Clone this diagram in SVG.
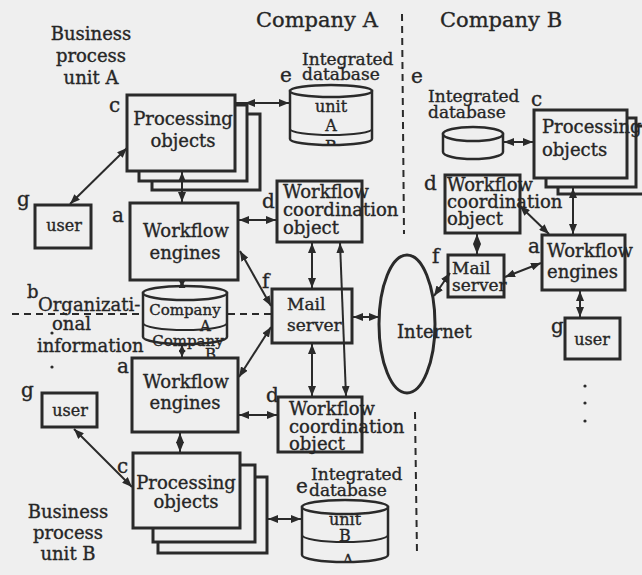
<svg xmlns="http://www.w3.org/2000/svg" width="642" height="575" viewBox="0 0 642 575">
<defs>
<style>
text{font-family:'DejaVu Serif',serif;fill:#262626;stroke:#262626;stroke-width:0.35;}
.t18{font-size:18px;}
.t17{font-size:17px;}
.t16{font-size:16px;}
.t15{font-size:15px;}
.t20{font-size:20px;}
.t21{font-size:21px;}
.mid{text-anchor:middle;}
.box{fill:#efefef;stroke:#2a2a2a;stroke-width:3;}
.cyl{fill:#efefef;stroke:#2a2a2a;stroke-width:2.5;}
.ln{fill:none;stroke:#2a2a2a;stroke-width:2;}
.con{fill:none;stroke:#2a2a2a;stroke-width:2;marker-start:url(#ah);marker-end:url(#ah);}
.cons{fill:none;stroke:#2a2a2a;stroke-width:2;marker-start:url(#ahs);marker-end:url(#ahs);}
.dash{fill:none;stroke:#2a2a2a;stroke-width:2;stroke-dasharray:7 5;}
</style>
<marker id="ah" markerUnits="userSpaceOnUse" markerWidth="10" markerHeight="8" refX="10" refY="4" orient="auto-start-reverse">
<path d="M0,0 L10,4 L0,8 Z" fill="#2a2a2a"/>
</marker>
<marker id="ahs" markerUnits="userSpaceOnUse" markerWidth="7" markerHeight="7" refX="7" refY="3.5" orient="auto-start-reverse">
<path d="M0,0 L7,3.5 L0,7 Z" fill="#2a2a2a"/>
</marker>
<clipPath id="clipA"><path d="M290,80 V139 A41,6 0 0 0 372,139 V80 Z"/></clipPath>
<clipPath id="clipB"><path d="M302,495 V555 A43,7 0 0 0 388,555 V495 Z"/></clipPath>
</defs>
<rect width="642" height="575" fill="#efefef"/>

<g id="titles">
<text class="t21" x="256" y="27">Company A</text>
<text class="t21" x="440" y="27">Company B</text>
<text class="t18 mid" x="91" y="40">Business</text>
<text class="t18 mid" x="91" y="62">process</text>
<text class="t18 mid" x="91" y="84">unit A</text>
<text class="t18 mid" x="68" y="518">Business</text>
<text class="t18 mid" x="68" y="539">process</text>
<text class="t18 mid" x="68" y="560">unit B</text>
</g>

<g id="separators">
<path class="dash" d="M402,14 L404,234"/>
<path class="dash" d="M415,412 L417,554"/>
<path class="dash" d="M12,314 H352"/>
</g>

<g id="org-info">
<text class="t18" x="27" y="298">b</text>
<text class="t18" x="38" y="311">Organizati-</text>
<text class="t18" x="52" y="330">onal</text>
<text class="t18" x="37" y="352">information</text>
<circle cx="52" cy="333" r="1.6" fill="#2a2a2a"/>
<circle cx="52" cy="367" r="1.6" fill="#2a2a2a"/>
</g>

<g id="proc-a1">
<rect class="box" x="152" y="114" width="108" height="76"/>
<rect class="box" x="139" y="105" width="108" height="76"/>
<rect class="box" x="127" y="95" width="108" height="76"/>
<text class="t18 mid" x="183" y="125">Processing</text>
<text class="t18 mid" x="183" y="147">objects</text>
<text class="t20" x="109" y="112">c</text>
</g>

<g id="db-a1">
<path class="cyl" d="M290,91 V139 A41,6 0 0 0 372,139 V91 Z"/>
<ellipse class="cyl" cx="331" cy="91" rx="41" ry="6"/>
<path class="ln" d="M290,129 A41,6 0 0 0 372,129"/>
<text class="t16 mid" x="331" y="112">unit</text>
<text class="t16 mid" x="331" y="131">A</text>
<text class="t16 mid" x="331" y="152" clip-path="url(#clipA)">B</text>
<text class="t17" x="302" y="65">Integrated</text>
<text class="t17" x="302" y="80">database</text>
<text class="t20" x="280" y="82">e</text>
</g>

<g id="user-a1">
<rect class="box" x="35" y="205" width="56" height="43"/>
<text class="t16 mid" x="64" y="231">user</text>
<text class="t20" x="17" y="206">g</text>
</g>

<g id="wf-a1">
<rect class="box" x="130" y="203" width="108" height="77"/>
<text class="t18 mid" x="186" y="237">Workflow</text>
<text class="t18 mid" x="185" y="259">engines</text>
<text class="t20" x="112" y="222">a</text>
</g>

<g id="coord-a1">
<rect class="box" x="277" y="181" width="85" height="61"/>
<text class="t18" x="283" y="198">Workflow</text>
<text class="t18" x="283" y="216">coordination</text>
<text class="t18" x="283" y="234">object</text>
<text class="t20" x="262" y="208">d</text>
</g>

<g id="mail-a">
<rect class="box" x="272" y="289" width="80" height="54"/>
<text class="t17" x="287" y="310">Mail</text>
<text class="t17" x="287" y="331">server</text>
<text class="t20" x="262" y="288">f</text>
</g>

<g id="db-company">
<path class="cyl" d="M143,293 V337 A42,7 0 0 0 227,337 V293 Z"/>
<ellipse class="cyl" cx="185" cy="293" rx="42" ry="7"/>
<path class="ln" d="M143,323 A42,7 0 0 0 227,323"/>
<text class="t15 mid" x="185" y="315">Company</text>
<text class="t15" x="200" y="331">A</text>
<text class="t15 mid" x="188" y="346">Company</text>
<text class="t15" x="205" y="359">B</text>
</g>

<g id="wf-a2">
<rect class="box" x="132" y="358" width="106" height="74"/>
<text class="t18 mid" x="186" y="388">Workflow</text>
<text class="t18 mid" x="185" y="409">engines</text>
<text class="t20" x="117" y="373">a</text>
</g>

<g id="coord-a2">
<rect class="box" x="278" y="397" width="84" height="55"/>
<text class="t18" x="289" y="415">Workflow</text>
<text class="t18" x="289" y="433">coordination</text>
<text class="t18" x="289" y="450">object</text>
<text class="t20" x="266" y="402">d</text>
</g>

<g id="user-a2">
<rect class="box" x="42" y="393" width="55" height="34"/>
<text class="t16 mid" x="70" y="416">user</text>
<text class="t20" x="21" y="397">g</text>
</g>

<g id="proc-a2">
<rect class="box" x="158" y="477" width="109" height="76"/>
<rect class="box" x="153" y="465" width="102" height="77"/>
<rect class="box" x="133" y="453" width="107" height="75"/>
<text class="t18 mid" x="186" y="489">Processing</text>
<text class="t18 mid" x="186" y="508">objects</text>
<text class="t20" x="117" y="473">c</text>
</g>

<g id="db-a2">
<path class="cyl" d="M302,507 V555 A43,7 0 0 0 388,555 V507 Z"/>
<ellipse class="cyl" cx="345" cy="507" rx="43" ry="7"/>
<path class="ln" d="M302,535 A43,7 0 0 0 388,535"/>
<text class="t16 mid" x="345" y="525">unit</text>
<text class="t16 mid" x="345" y="541">B</text>
<text class="t16 mid" x="348" y="566" clip-path="url(#clipB)">A</text>
<text class="t17" x="311" y="480">Integrated</text>
<text class="t17" x="309" y="496">database</text>
<text class="t20" x="296" y="493">e</text>
</g>

<g id="internet">
<ellipse cx="407" cy="324" rx="28" ry="69" fill="none" stroke="#2a2a2a" stroke-width="3"/>
<text class="t18" x="397" y="338">Internet</text>
</g>

<g id="db-b">
<path class="cyl" d="M443,134 V152 A30,7 0 0 0 503,152 V134 Z"/>
<ellipse class="cyl" cx="473" cy="134" rx="30" ry="7"/>
<text class="t17" x="428" y="102">Integrated</text>
<text class="t17" x="428" y="118">database</text>
<text class="t20" x="411" y="83">e</text>
</g>

<g id="proc-b">
<rect class="box" x="558" y="126" width="92" height="68"/>
<rect class="box" x="546" y="118" width="90" height="69"/>
<rect class="box" x="534" y="110" width="93" height="68"/>
<text class="t18" x="542" y="133">Processing</text>
<text class="t18" x="542" y="156">objects</text>
<text class="t20" x="531" y="106">c</text>
</g>

<g id="coord-b">
<rect class="box" x="445" y="175" width="75" height="58"/>
<text class="t18" x="447" y="191">Workflow</text>
<text class="t18" x="447" y="208">coordination</text>
<text class="t18" x="447" y="225">object</text>
<text class="t20" x="424" y="190">d</text>
</g>

<g id="mail-b">
<rect class="box" x="448" y="255" width="56" height="42"/>
<text class="t17" x="452" y="274">Mail</text>
<text class="t17" x="452" y="291">server</text>
<text class="t20" x="432" y="263">f</text>
</g>

<g id="wf-b">
<rect class="box" x="542" y="235" width="83" height="55"/>
<text class="t18" x="547" y="257">Workflow</text>
<text class="t18" x="547" y="278">engines</text>
<text class="t20" x="528" y="253">a</text>
</g>

<g id="user-b">
<rect class="box" x="565" y="318" width="55" height="41"/>
<text class="t16 mid" x="592" y="345">user</text>
<text class="t20" x="551" y="333">g</text>
<circle cx="585" cy="386" r="1.6" fill="#2a2a2a"/>
<circle cx="585" cy="403" r="1.6" fill="#2a2a2a"/>
<circle cx="585" cy="421" r="1.6" fill="#2a2a2a"/>
</g>

<g id="connectors">
<path class="ln" d="M235,103 H245"/>
<path class="con" d="M245,103 H289"/>
<path class="con" d="M182,172 V202"/>
<path class="con" d="M70,204 L127,148"/>
<path class="con" d="M239,220 H276"/>
<path class="con" d="M240,251 L271,306"/>
<path class="cons" d="M182,281 V287"/>
<path class="cons" d="M182,345 V357"/>
<path class="con" d="M239,377 L271,327"/>
<path class="con" d="M239,415 H277"/>
<path class="con" d="M180,433 V452"/>
<path class="con" d="M74,429 L132,487"/>
<path class="con" d="M268,519 H301"/>
<path class="con" d="M312,243 V288"/>
<path class="con" d="M340,243 L346,396"/>
<path class="con" d="M312,344 V396"/>
<path class="con" d="M353,317 H379"/>
<path class="con" d="M434,296 L450,273"/>
<path class="con" d="M505,277 L541,263"/>
<path class="con" d="M477,234 V254"/>
<path class="con" d="M520,206 L549,234"/>
<path class="con" d="M573,188 V234"/>
<path class="con" d="M580,291 V317"/>
<path class="con" d="M504,142 H533"/>
</g>
</svg>
